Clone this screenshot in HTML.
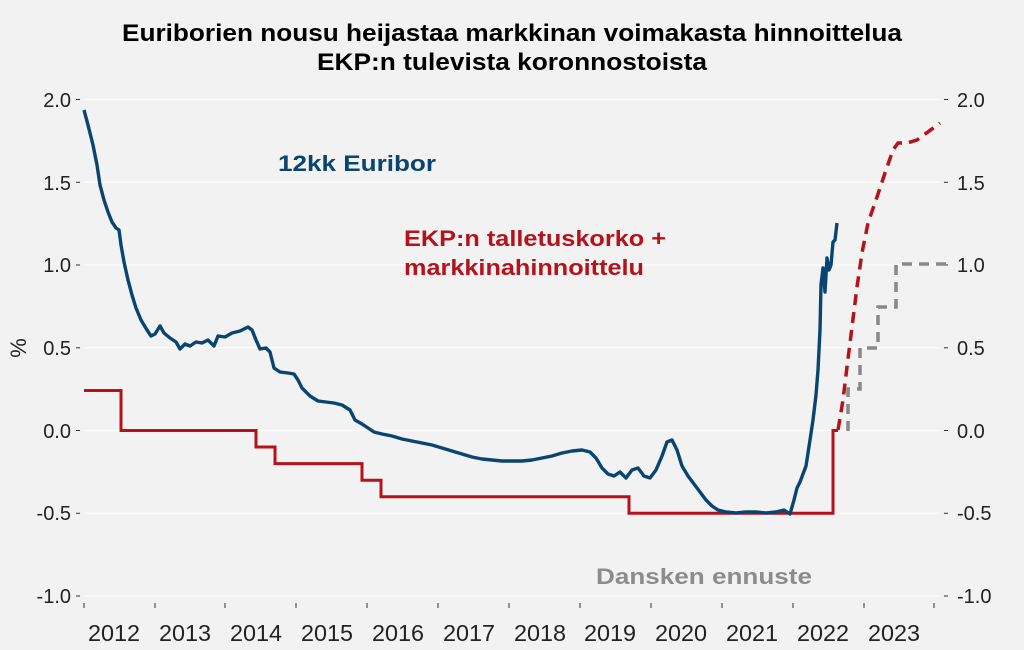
<!DOCTYPE html>
<html><head><meta charset="utf-8"><style>
html,body{margin:0;padding:0;background:#f2f2f2;}
svg{display:block;font-family:"Liberation Sans",Arial,sans-serif;}
</style></head><body>
<svg width="1024" height="650" viewBox="0 0 1024 650" xmlns="http://www.w3.org/2000/svg">
<rect width="1024" height="650" fill="#f2f2f2"/>
<text x="512" y="41" text-anchor="middle" font-size="24" font-weight="bold" fill="#000" textLength="780" lengthAdjust="spacingAndGlyphs">Euriborien nousu heijastaa markkinan voimakasta hinnoittelua</text>
<text x="512" y="70" text-anchor="middle" font-size="24" font-weight="bold" fill="#000" textLength="390" lengthAdjust="spacingAndGlyphs">EKP:n tulevista koronnostoista</text>
<g stroke="#fbfbfb" stroke-width="1.5">
<line x1="84" x2="940" y1="99.5" y2="99.5"/><line x1="84" x2="940" y1="182.3" y2="182.3"/>
<line x1="84" x2="940" y1="265" y2="265"/><line x1="84" x2="940" y1="347.8" y2="347.8"/>
<line x1="84" x2="940" y1="430.5" y2="430.5"/><line x1="84" x2="940" y1="513.3" y2="513.3"/>
<line x1="84" x2="940" y1="596" y2="596"/>
</g>
<g stroke="#333" stroke-width="1">
<line x1="76" x2="80" y1="99.5" y2="99.5"/><line x1="76" x2="80" y1="182.3" y2="182.3"/><line x1="76" x2="80" y1="265" y2="265"/><line x1="76" x2="80" y1="347.8" y2="347.8"/><line x1="76" x2="80" y1="430.5" y2="430.5"/><line x1="76" x2="80" y1="513.3" y2="513.3"/><line x1="76" x2="80" y1="596" y2="596"/>
<line x1="944" x2="948" y1="99.5" y2="99.5"/><line x1="944" x2="948" y1="182.3" y2="182.3"/><line x1="944" x2="948" y1="265" y2="265"/><line x1="944" x2="948" y1="347.8" y2="347.8"/><line x1="944" x2="948" y1="430.5" y2="430.5"/><line x1="944" x2="948" y1="513.3" y2="513.3"/><line x1="944" x2="948" y1="596" y2="596"/>
<line x1="84" x2="84" y1="603" y2="608"/><line x1="155" x2="155" y1="603" y2="608"/><line x1="225" x2="225" y1="603" y2="608"/><line x1="296" x2="296" y1="603" y2="608"/><line x1="367" x2="367" y1="603" y2="608"/><line x1="438" x2="438" y1="603" y2="608"/><line x1="509" x2="509" y1="603" y2="608"/><line x1="580" x2="580" y1="603" y2="608"/><line x1="651" x2="651" y1="603" y2="608"/><line x1="722" x2="722" y1="603" y2="608"/><line x1="793" x2="793" y1="603" y2="608"/><line x1="864" x2="864" y1="603" y2="608"/><line x1="934" x2="934" y1="603" y2="608"/>
</g>
<g font-size="20" fill="#222" text-anchor="end">
<text x="71" y="107">2.0</text><text x="71" y="190">1.5</text><text x="71" y="272">1.0</text><text x="71" y="355">0.5</text><text x="71" y="438">0.0</text><text x="71" y="520">-0.5</text><text x="71" y="603">-1.0</text>
</g>
<g font-size="20" fill="#222" text-anchor="start">
<text x="957" y="107">2.0</text><text x="957" y="190">1.5</text><text x="957" y="272">1.0</text><text x="957" y="355">0.5</text><text x="957" y="438">0.0</text><text x="957" y="520">-0.5</text><text x="957" y="603">-1.0</text>
</g>
<g font-size="23" fill="#222" text-anchor="middle">
<text x="114" y="641" textLength="52" lengthAdjust="spacingAndGlyphs">2012</text><text x="185" y="641" textLength="52" lengthAdjust="spacingAndGlyphs">2013</text><text x="256" y="641" textLength="52" lengthAdjust="spacingAndGlyphs">2014</text><text x="327" y="641" textLength="52" lengthAdjust="spacingAndGlyphs">2015</text><text x="398" y="641" textLength="52" lengthAdjust="spacingAndGlyphs">2016</text><text x="469" y="641" textLength="52" lengthAdjust="spacingAndGlyphs">2017</text><text x="540" y="641" textLength="52" lengthAdjust="spacingAndGlyphs">2018</text><text x="610" y="641" textLength="52" lengthAdjust="spacingAndGlyphs">2019</text><text x="681" y="641" textLength="52" lengthAdjust="spacingAndGlyphs">2020</text><text x="752" y="641" textLength="52" lengthAdjust="spacingAndGlyphs">2021</text><text x="823" y="641" textLength="52" lengthAdjust="spacingAndGlyphs">2022</text><text x="894" y="641" textLength="52" lengthAdjust="spacingAndGlyphs">2023</text>
</g>
<text transform="translate(26,348) rotate(-90)" text-anchor="middle" font-size="22" fill="#222">%</text>
<path d="M84,390.5 H121 V430.5 H256 V447 H275 V463.6 H362 V480.2 H381 V496.7 H629 V513.3 H833 V430.5 H838" fill="none" stroke="#b5121b" stroke-width="3"/>
<path d="M838,430 L843,400 L847,367 L852,327 L857,287 L862,253 L868,223 L877,197 L885,173 L893,150 L898,143 L907,143 L917,140 L940,123" fill="none" stroke="#b5121b" stroke-width="3.5" stroke-dasharray="11,7"/>
<path d="M848,431 V389 H860 V348 H878 V307 H896 V264 H947" fill="none" stroke="#888" stroke-width="3.5" stroke-dasharray="10,7"/>
<path d="M84,110 L88,125 L93,145 L97,165 L100,185 L104,200 L108,212 L112,222 L116,228 L119,230 L121,245 L124,262 L128,280 L132,295 L136,308 L141,320 L147,330 L151,336 L155,334 L160,326 L164,333 L170,338 L176,342 L180,349 L185,344 L190,346 L196,342 L202,343 L208,340 L214,346 L218,336 L225,337 L232,333 L240,331 L248,327 L252,330 L256,340 L260,349 L266,348 L270,352 L274,368 L280,372 L288,373 L294,374 L298,380 L302,388 L310,396 L318,401 L326,402 L334,403 L342,405 L350,410 L355,420 L362,424 L368,428 L374,432 L382,434 L392,436 L402,439 L412,441 L422,443 L432,445 L442,448 L452,451 L462,454 L472,457 L482,459 L492,460 L502,461 L512,461 L522,461 L532,460 L542,458 L552,456 L562,453 L572,451 L582,450 L590,452 L596,458 L602,468 L608,474 L614,476 L620,472 L626,478 L632,470 L638,468 L644,476 L650,478 L656,470 L662,456 L667,442 L672,440 L677,450 L682,466 L688,476 L694,484 L700,492 L706,500 L712,506 L718,510 L726,512 L736,513 L746,512 L756,512 L766,513 L776,512 L784,510 L790,514 L794,500 L797,488 L800,482 L803,474 L806,466 L810,440 L813,420 L816,395 L818,370 L820,330 L821,285 L823,268 L825,292 L827,258 L829,270 L831,265 L833,242 L835,240 L837,223" fill="none" stroke="#0a4470" stroke-width="3.4" stroke-linejoin="round"/>
<text x="278" y="171" font-size="22" font-weight="bold" fill="#0a4470" textLength="158" lengthAdjust="spacingAndGlyphs">12kk Euribor</text>
<text x="404" y="246" font-size="22" font-weight="bold" fill="#b5121b" textLength="262" lengthAdjust="spacingAndGlyphs">EKP:n talletuskorko +</text>
<text x="404" y="275" font-size="22" font-weight="bold" fill="#b5121b" textLength="240" lengthAdjust="spacingAndGlyphs">markkinahinnoittelu</text>
<text x="596" y="584" font-size="22" font-weight="bold" fill="#8c8c8c" textLength="216" lengthAdjust="spacingAndGlyphs">Dansken ennuste</text>
</svg>
</body></html>
